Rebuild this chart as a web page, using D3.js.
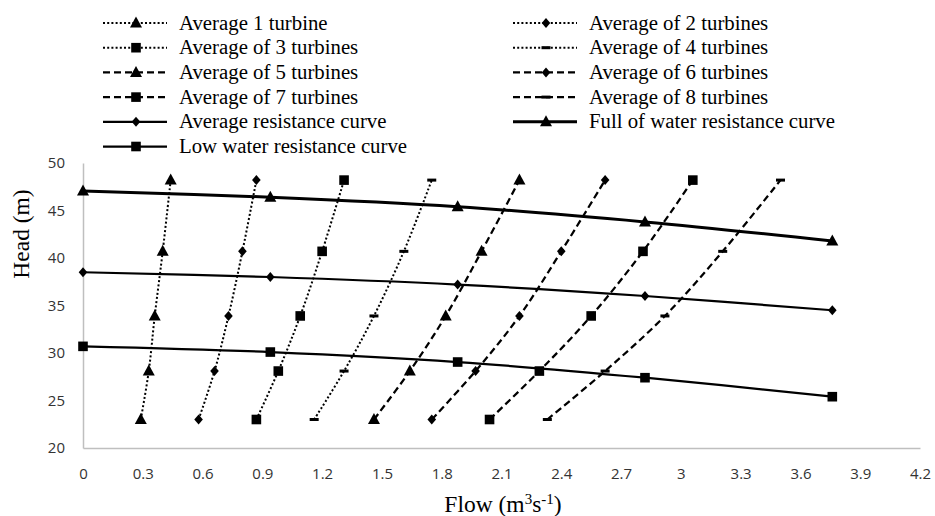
<!DOCTYPE html>
<html>
<head>
<meta charset="utf-8">
<script src="https://cdn.jsdelivr.net/npm/d3@7"></script>
<style>
  body { margin: 0; background: #fff; }
  svg { display: block; }
</style>
</head>
<body>
<svg id="chart" width="935" height="516"></svg>
<script>
// heads shared by the turbine series (m)
const heads = [23, 28.1, 33.9, 40.7, 48.2];
// flow of each turbine series at those heads (m3/s)
const turbine1 = [0.29, 0.33, 0.36, 0.40, 0.44];
const turbine2 = [0.58, 0.66, 0.73, 0.80, 0.87];
const turbine3 = [0.87, 0.98, 1.09, 1.20, 1.31];
const turbine4 = [1.16, 1.31, 1.46, 1.61, 1.75];
const turbine5 = [1.46, 1.64, 1.82, 2.00, 2.19];
const turbine6 = [1.75, 1.97, 2.19, 2.40, 2.62];
const turbine7 = [2.04, 2.29, 2.55, 2.81, 3.06];
const turbine8 = [2.33, 2.62, 2.92, 3.21, 3.50];
// resistance curves
const curveFlow = [0, 0.94, 1.88, 2.82, 3.76];
const avgResistance = [38.5, 38.0, 37.2, 36.0, 34.5];
const fullWater = [47.05, 46.4, 45.4, 43.8, 41.8];
const lowWater = [30.7, 30.1, 29.05, 27.4, 25.4];

const xTicks = [0, 0.3, 0.6, 0.9, 1.2, 1.5, 1.8, 2.1, 2.4, 2.7, 3, 3.3, 3.6, 3.9, 4.2];
const yTicks = [20, 25, 30, 35, 40, 45, 50];

const DOT = "2,2.2", DASH = "7,4";
const series = [
  { name: "Average 1 turbine", x: turbine1, y: heads, dash: DOT, w: 2, mark: "tri" },
  { name: "Average of 2 turbines", x: turbine2, y: heads, dash: DOT, w: 2, mark: "dia" },
  { name: "Average of 3 turbines", x: turbine3, y: heads, dash: DOT, w: 2, mark: "sq" },
  { name: "Average of 4 turbines", x: turbine4, y: heads, dash: DOT, w: 2, mark: "bar" },
  { name: "Average of 5 turbines", x: turbine5, y: heads, dash: DASH, w: 2.25, mark: "tri" },
  { name: "Average of 6 turbines", x: turbine6, y: heads, dash: DASH, w: 2.25, mark: "dia" },
  { name: "Average of 7 turbines", x: turbine7, y: heads, dash: DASH, w: 2.25, mark: "sq" },
  { name: "Average of 8 turbines", x: turbine8, y: heads, dash: DASH, w: 2.25, mark: "bar" },
  { name: "Average resistance curve", x: curveFlow, y: avgResistance, dash: null, w: 2.25, mark: "dia" },
  { name: "Full of water resistance curve", x: curveFlow, y: fullWater, dash: null, w: 3, mark: "tri" },
  { name: "Low water resistance curve", x: curveFlow, y: lowWater, dash: null, w: 2.25, mark: "sq" }
];

const svg = d3.select("#chart");
const x = d3.scaleLinear().domain([0, 4.2]).range([83, 920]);
const y = d3.scaleLinear().domain([20, 50]).range([448, 163]);

// axes
const xAxis = svg.append("g").attr("transform", `translate(0,${y(20)})`)
  .call(d3.axisBottom(x).tickValues(xTicks).tickSize(0).tickSizeOuter(0).tickPadding(20)
    .tickFormat(d => String(+d.toFixed(1))));
const yAxis = svg.append("g").attr("transform", `translate(${x(0)},0)`)
  .call(d3.axisLeft(y).tickValues(yTicks).tickSize(0).tickSizeOuter(0).tickPadding(18));
[xAxis, yAxis].forEach(a => {
  a.select(".domain").attr("stroke", "#bfbfbf").attr("stroke-width", 1.5);
  a.selectAll("text").attr("font-family", "'Open Sans', sans-serif").attr("font-size", 15).attr("fill", "#333");
});

// marker symbols
function marker(sel, type) {
  if (type === "tri") sel.append("path").attr("d", "M0,-6.5 L6,4.5 L-6,4.5 Z");
  else if (type === "sq") sel.append("rect").attr("x", -4.8).attr("y", -4.8).attr("width", 9.6).attr("height", 9.6);
  else if (type === "dia") sel.append("path").attr("d", "M0,-5 L4.3,0 L0,5 L-4.3,0 Z");
  else if (type === "bar") sel.append("rect").attr("x", -4.5).attr("y", -1.5).attr("width", 9).attr("height", 3);
}

const line = d3.line().x(d => x(d[0])).y(d => y(d[1])).curve(d3.curveCatmullRom);

const plot = svg.append("g");
series.forEach(s => {
  const pts = s.x.map((v, i) => [v, s.y[i]]);
  const g = plot.append("g");
  g.append("path").attr("d", line(pts))
    .attr("fill", "none").attr("stroke", "#000").attr("stroke-width", s.w)
    .attr("stroke-dasharray", s.dash);
  pts.forEach(p => {
    const m = g.append("g").attr("transform", `translate(${x(p[0])},${y(p[1])})`).attr("fill", "#000");
    marker(m, s.mark);
  });
});

// legend, two columns
const legend = svg.append("g");
series.forEach((s, i) => {
  const col = i % 2, row = Math.floor(i / 2);
  const lx = col === 0 ? 103 : 513;
  const ly = 23 + row * 24.7;
  const g = legend.append("g").attr("transform", `translate(${lx},${ly})`);
  g.append("line").attr("x1", 0).attr("x2", 64).attr("y1", 0).attr("y2", 0)
    .attr("stroke", "#000").attr("stroke-width", s.w).attr("stroke-dasharray", s.dash);
  const m = g.append("g").attr("transform", "translate(33,0)").attr("fill", "#000");
  marker(m, s.mark);
  g.append("text").attr("x", 76).attr("y", 6.5)
    .attr("font-family", "'Liberation Serif', 'Times New Roman', serif").attr("font-size", 20.8)
    .text(s.name);
});

// axis titles
svg.append("text").attr("transform", "translate(29,234) rotate(-90)")
  .attr("text-anchor", "middle")
  .attr("font-family", "'Liberation Serif', 'Times New Roman', serif").attr("font-size", 23.5)
  .text("Head (m)");
const ft = svg.append("text").attr("x", 503).attr("y", 512).attr("text-anchor", "middle")
  .attr("font-family", "'Liberation Serif', 'Times New Roman', serif").attr("font-size", 23.5);
ft.append("tspan").text("Flow (m");
ft.append("tspan").attr("font-size", 15).attr("dy", -8).text("3");
ft.append("tspan").attr("dy", 8).text("s");
ft.append("tspan").attr("font-size", 15).attr("dy", -8).text("-1");
ft.append("tspan").attr("dy", 8).text(")");
</script>
</body>
</html>
